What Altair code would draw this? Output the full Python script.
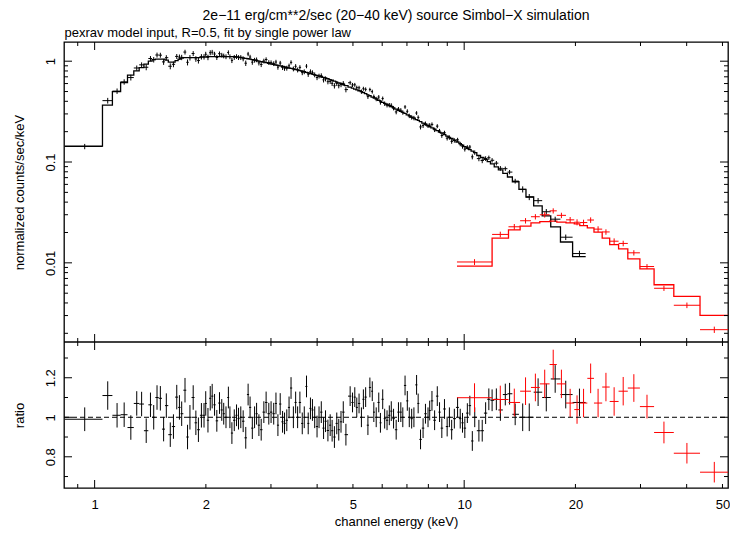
import math
import altair as alt
import pandas as pd

# ---------------- text ----------------
TITLE = "2e\u221211 erg/cm**2/sec (20\u221240 keV) source Simbol\u2212X simulation"
SUBTITLE = "pexrav model input, R=0.5, fit by single power law"
Y_TOP_TITLE = "normalized counts/sec/keV"
Y_BOT_TITLE = "ratio"
X_TITLE = "channel energy (keV)"

# ---------------- axes ----------------
X_DOMAIN = [0.8262, 51.75]
Y_TOP_DOMAIN = [0.00164, 1.55]
Y_BOT_DOMAIN = [0.642, 1.381]
x_labels = [1, 2, 5, 10, 20, 50]
x_major = [1, 10]
x_minor = [0.9, 2, 3, 4, 5, 6, 7, 8, 9, 20, 30, 40, 50]
ytop_labels = [0.01, 0.1, 1]
ytop_minor = [0.002, 0.003, 0.004, 0.005, 0.006, 0.007, 0.008, 0.009,
              0.02, 0.03, 0.04, 0.05, 0.06, 0.07, 0.08, 0.09,
              0.2, 0.3, 0.4, 0.5, 0.6, 0.7, 0.8, 0.9]
ybot_labels = [0.8, 1.0, 1.2]
ybot_minor = [0.7, 0.9, 1.1, 1.3]

# ---------------- black spectrum (bin centres, keV) ----------------
black_energy = [
    0.94, 1.085, 1.150, 1.202, 1.253, 1.300, 1.340, 1.379, 1.416, 1.445,
    1.475, 1.506, 1.537, 1.563, 1.602, 1.634, 1.668, 1.696, 1.720, 1.756,
    1.784, 1.811, 1.848, 1.879, 1.909, 1.945, 1.977, 1.998, 2.026, 2.055,
    2.080, 2.111, 2.141, 2.177, 2.208, 2.235, 2.267, 2.301, 2.323, 2.352,
    2.387, 2.421, 2.451, 2.486, 2.523, 2.564, 2.602, 2.634, 2.671, 2.709,
    2.743, 2.783, 2.823, 2.870, 2.911, 2.960, 3.002, 3.052, 3.095, 3.133,
    3.178, 3.225, 3.265, 3.311, 3.358, 3.400, 3.450, 3.499, 3.542, 3.593,
    3.646, 3.692, 3.744, 3.784, 3.837, 3.885, 3.940, 3.998, 4.048, 4.105,
    4.164, 4.215, 4.278, 4.339, 4.392, 4.455, 4.521, 4.577, 4.642, 4.708,
    4.786, 4.914, 4.987, 5.058, 5.121, 5.194, 5.271, 5.336, 5.412, 5.489,
    5.557, 5.640, 5.695, 5.780, 5.873, 5.934, 6.019, 6.093, 6.184, 6.272,
    6.349, 6.440, 6.546, 6.640, 6.738, 6.822, 6.918, 7.017, 7.103, 7.209,
    7.311, 7.434, 7.507, 7.619, 7.741, 7.856, 7.983, 8.066, 8.181, 8.318,
    8.457, 8.577, 8.699, 8.845, 8.993, 9.120, 9.250, 9.405, 9.597, 9.757,
    9.896, 10.04, 10.20, 10.36, 10.52, 10.68, 10.96, 11.19, 11.43, 11.66,
    11.90, 12.22, 12.53, 12.92, 13.27, 13.74, 14.40, 15.00, 15.85, 16.68,
    17.63, 18.83, 20.51,
]
black_first_edges = [0.83, 1.05]
black_last_edge = 21.32

black_model = [
    0.144, 0.366, 0.50, 0.615, 0.726, 0.80, 0.862, 0.934, 1.0, 1.035,
    1.047, 1.047, 1.047, 1.023, 0.977, 0.977, 1.012, 1.047, 1.071, 1.083,
    1.083, 1.083, 1.083, 1.083, 1.083, 1.095, 1.095, 1.095, 1.108, 1.108,
    1.108, 1.108, 1.108, 1.108, 1.108, 1.108, 1.108, 1.108, 1.108, 1.108,
    1.108, 1.10, 1.095, 1.088, 1.078, 1.066, 1.057, 1.047, 1.035, 1.023,
    1.014, 1.002, 0.991, 0.979, 0.966, 0.953, 0.942, 0.929, 0.917, 0.909,
    0.898, 0.886, 0.878, 0.866, 0.856, 0.848, 0.839, 0.827, 0.819, 0.808,
    0.795, 0.786, 0.773, 0.764, 0.754, 0.743, 0.733, 0.722, 0.712, 0.701,
    0.691, 0.682, 0.671, 0.657, 0.647, 0.634, 0.621, 0.610, 0.599, 0.587,
    0.573, 0.552, 0.541, 0.529, 0.520, 0.509, 0.499, 0.489, 0.477, 0.464,
    0.454, 0.441, 0.434, 0.422, 0.410, 0.402, 0.391, 0.382, 0.372, 0.363,
    0.354, 0.345, 0.335, 0.326, 0.318, 0.310, 0.303, 0.294, 0.287, 0.279,
    0.273, 0.263, 0.259, 0.251, 0.243, 0.236, 0.229, 0.224, 0.218, 0.212,
    0.205, 0.198, 0.194, 0.187, 0.181, 0.175, 0.171, 0.165, 0.158, 0.152,
    0.147, 0.142, 0.137, 0.133, 0.128, 0.124, 0.116, 0.111, 0.106, 0.101,
    0.0958, 0.0893, 0.0835, 0.0770, 0.0710, 0.0637, 0.0536, 0.0450, 0.0367, 0.0292,
    0.0227, 0.0161, 0.0115,
]

black_ratio = [
    0.99, 1.11, 1.01, 1.013, 0.948, 1.07, 1.067, 0.932, 1.063, 1.0,
    1.1, 1.096, 0.94, 1.059, 0.912, 0.953, 1.102, 1.05, 1.018, 1.137,
    0.9, 1.0, 1.1, 0.972, 0.937, 1.01, 1.01, 1.07, 0.985, 1.096,
    1.107, 1.063, 0.982, 1.072, 1.037, 1.018, 1.0, 1.1, 1.0, 0.92,
    0.985, 1.01, 0.993, 1.0, 0.98, 0.896, 1.115, 1.05, 0.945, 1.0,
    1.018, 0.96, 0.937, 1.026, 1.075, 1.018, 1.026, 1.018, 1.07, 0.96,
    1.067, 0.977, 0.969, 0.985, 1.05, 1.148, 1.0, 1.075, 1.0, 1.075,
    0.969, 1.0, 1.156, 0.969, 1.045, 1.037, 1.0, 0.953, 1.0, 1.026,
    0.945, 0.98, 0.933, 0.96, 0.932, 0.9, 0.969, 0.937, 0.977, 1.026,
    0.912, 1.107, 1.075, 1.102, 1.05, 1.07, 1.0, 1.091, 1.102, 0.96,
    1.151, 1.132, 1.026, 1.0, 1.075, 0.972, 1.091, 0.993, 0.985, 1.01,
    1.031, 0.993, 0.937, 1.026, 1.026, 1.0, 1.161, 1.083, 1.0, 0.993,
    1.0, 1.164, 1.07, 0.888, 0.945, 1.018, 1.0, 1.034, 1.083, 0.985,
    1.107, 1.026, 0.945, 1.042, 0.953, 1.0, 0.937, 0.993, 1.05, 0.993,
    0.972, 0.945, 1.021, 1.059, 0.88, 1.0, 0.932, 0.932, 1.021, 1.091,
    1.086, 1.091, 1.037, 1.115, 1.119, 1.015, 1.0, 1.0, 1.127, 1.1,
    1.194, 1.115, 1.075,
]

black_err = ([0.06, 0.072] + [0.062] * 29 + [0.055] * 60 + [0.05] * 55
             + [0.055] * 10 + [0.07] * 7)

# ---------------- red spectrum ----------------
red_edges = [9.56, 11.90, 13.18, 14.17, 15.16, 16.02, 17.03, 17.81, 18.86, 19.86,
             20.55, 21.54, 22.45, 23.63, 24.76, 26.17, 27.72, 29.89, 32.65, 36.92,
             43.47, 51.94]
red_model = [0.00928, 0.01756, 0.0212, 0.0231, 0.0249, 0.02564, 0.02588, 0.0253,
             0.0249, 0.02433, 0.02341, 0.02221, 0.02014, 0.01756, 0.01518, 0.01376,
             0.01095, 0.00872, 0.00606, 0.00464, 0.00301]
red_ratio = [1.099, 1.09, 1.075, 1.132, 1.151, 1.169, 1.267, 1.169, 1.072, 1.039,
             1.072, 1.197, 1.072, 1.153, 1.08, 1.132, 1.148, 1.054, 0.923, 0.818,
             0.722]
red_err = [0.073, 0.07, 0.07, 0.07, 0.07, 0.072, 0.075, 0.072, 0.072, 0.072,
           0.072, 0.075, 0.072, 0.072, 0.072, 0.072, 0.07, 0.06, 0.055, 0.052,
           0.052]

n = len(black_energy)
if not (len(black_model) == len(black_ratio) == len(black_err) == n):
    raise SystemExit(f"length mismatch {n} {len(black_model)} {len(black_ratio)} {len(black_err)}")

# ---------------- tables ----------------
b_hi = ([black_first_edges[1]]
        + [math.sqrt(black_energy[i] * black_energy[i + 1]) for i in range(1, n - 1)]
        + [black_last_edge])
b_lo = [black_first_edges[0]] + b_hi[:-1]


def spectrum_table(centers, lo, hi, model, ratio, err):
    df = pd.DataFrame({"c": centers, "lo": lo, "hi": hi, "m": model, "r": ratio, "re": err})
    df["d"] = df.m * df.r
    df["dlo"] = df.m * (df.r - df.re)
    df["dhi"] = df.m * (df.r + df.re)
    df["rlo"] = df.r - df.re
    df["rhi"] = df.r + df.re
    return df


black_df = spectrum_table(black_energy, b_lo, b_hi, black_model, black_ratio, black_err)
r_lo = red_edges[:-1]
r_hi = red_edges[1:]
r_c = [math.sqrt(a * b) for a, b in zip(r_lo, r_hi)]
red_df = spectrum_table(r_c, r_lo, r_hi, red_model, red_ratio, red_err)

black_step = pd.DataFrame({"e": b_lo + [b_hi[-1]], "m": black_model + [black_model[-1]]})
red_step = pd.DataFrame({"e": r_lo + [r_hi[-1]], "m": red_model + [red_model[-1]]})

# ---------------- scales ----------------
W, H = 664, 446
TOP_H = 300
FONT = "Liberation Sans"
RED = "#ff0000"
MAJ, MIN = 8, 4


def xs():
    return alt.Scale(type="log", domain=X_DOMAIN, nice=False)


def yts():
    return alt.Scale(type="log", domain=Y_TOP_DOMAIN, nice=False, range=[TOP_H, 0])


def ybs():
    return alt.Scale(type="linear", domain=Y_BOT_DOMAIN, nice=False, zero=False, range=[H, TOP_H])


common_axis = dict(grid=False, domain=False, ticks=False, tickSize=0,
                   labelFont=FONT, labelFontSize=13, labelColor="black",
                   labelFontWeight="normal", titleFont=FONT, titleFontSize=13,
                   titleFontWeight="normal", titleColor="black")

top_x_axis = alt.Axis(orient="top", labels=False,
                      title=SUBTITLE, titleAnchor="start", titleAlign="left",
                      titleX=0, titleY=-6, titleBaseline="alphabetic", **common_axis)
top_y_axis = alt.Axis(orient="left", values=ytop_labels, format="~g", labelAngle=270,
                      labelAlign="center", labelBaseline="bottom", labelPadding=7,
                      title=Y_TOP_TITLE, titleX=-45, titleY=TOP_H / 2,
                      titleBaseline="middle", titleAlign="center", titleAngle=270,
                      **common_axis)
bot_x_axis = alt.Axis(orient="bottom", values=x_labels, format="~g", labelPadding=10,
                      labelBaseline="top",
                      title=X_TITLE, titleY=33, titleBaseline="middle", **common_axis)
bot_y_axis = alt.Axis(orient="left", values=ybot_labels, format="~g", labelAngle=270,
                      labelAlign="center", labelBaseline="bottom", labelPadding=7,
                      title=Y_BOT_TITLE, titleX=-45, titleY=(H + TOP_H) / 2,
                      titleBaseline="middle", titleAlign="center", titleAngle=270,
                      **common_axis)


def x_tick_layer(vals, length, ysc, ydatum, sign):
    df = pd.DataFrame({"v": vals})
    return alt.Chart(df).mark_rule(color="black", strokeWidth=1, y2Offset=sign * length).encode(
        x=alt.X("v:Q", scale=xs(), axis=None),
        y=alt.YDatum(ydatum, scale=ysc(), axis=None),
        y2=alt.Y2Datum(ydatum),
    )


def y_tick_layer(vals, length, ysc, xdatum, sign):
    df = pd.DataFrame({"v": vals})
    return alt.Chart(df).mark_rule(color="black", strokeWidth=1, x2Offset=sign * length).encode(
        y=alt.Y("v:Q", scale=ysc(), axis=None),
        x=alt.XDatum(xdatum, scale=xs(), axis=None),
        x2=alt.X2Datum(xdatum),
    )


def ticks_for_panel(ysc, ydom, ymaj, ymin):
    return [
        x_tick_layer(x_major, MAJ, ysc, ydom[1], 1),
        x_tick_layer(x_minor, MIN, ysc, ydom[1], 1),
        x_tick_layer(x_major, MAJ, ysc, ydom[0], -1),
        x_tick_layer(x_minor, MIN, ysc, ydom[0], -1),
        y_tick_layer(ymaj, MAJ, ysc, X_DOMAIN[0], 1),
        y_tick_layer(ymin, MIN, ysc, X_DOMAIN[0], 1),
        y_tick_layer(ymaj, MAJ, ysc, X_DOMAIN[1], -1),
        y_tick_layer(ymin, MIN, ysc, X_DOMAIN[1], -1),
    ]


def crosses(df, color, ysc, yfield, ylo, yhi, axes=(None, None)):
    xa, ya = axes
    h = alt.Chart(df).mark_rule(color=color, strokeWidth=1, clip=True).encode(
        x=alt.X("lo:Q", scale=xs(), axis=xa),
        x2="hi:Q",
        y=alt.Y(f"{yfield}:Q", scale=ysc(), axis=ya),
    )
    v = alt.Chart(df).mark_rule(color=color, strokeWidth=1, clip=True).encode(
        x=alt.X("c:Q", scale=xs(), axis=None),
        y=alt.Y(f"{ylo}:Q", scale=ysc(), axis=None),
        y2=f"{yhi}:Q",
    )
    return [h, v]


# ---------------- top panel ----------------
black_model_line = alt.Chart(black_step).mark_line(
    interpolate="step-after", color="black", strokeWidth=1.3, clip=True).encode(
    x=alt.X("e:Q", scale=xs(), axis=top_x_axis),
    y=alt.Y("m:Q", scale=yts(), axis=top_y_axis),
)
red_model_line = alt.Chart(red_step).mark_line(
    interpolate="step-after", color=RED, strokeWidth=1.3, clip=True).encode(
    x=alt.X("e:Q", scale=xs(), axis=None),
    y=alt.Y("m:Q", scale=yts(), axis=None),
)

# ---------------- bottom panel ----------------
unity = alt.Chart().mark_rule(color="black", strokeWidth=1, strokeDash=[5, 3]).encode(
    x=alt.XDatum(X_DOMAIN[0], scale=xs(), axis=None),
    x2=alt.X2Datum(X_DOMAIN[1]),
    y=alt.YDatum(1.0, scale=ybs(), axis=None),
)
divider = alt.Chart().mark_rule(color="black", strokeWidth=1.3).encode(
    x=alt.XDatum(X_DOMAIN[0], scale=xs(), axis=None),
    x2=alt.X2Datum(X_DOMAIN[1]),
    y=alt.YDatum(Y_BOT_DOMAIN[1], scale=ybs(), axis=None),
)

layers = [
    black_model_line,
    red_model_line,
    *crosses(black_df, "black", yts, "d", "dlo", "dhi"),
    *crosses(red_df, RED, yts, "d", "dlo", "dhi"),
    *crosses(black_df, "black", ybs, "r", "rlo", "rhi", axes=(bot_x_axis, bot_y_axis)),
    *crosses(red_df, RED, ybs, "r", "rlo", "rhi"),
    unity,
    divider,
    *ticks_for_panel(yts, Y_TOP_DOMAIN, ytop_labels, ytop_minor),
    *ticks_for_panel(ybs, Y_BOT_DOMAIN, ybot_labels, ybot_minor),
]

chart = alt.layer(*layers).resolve_scale(x="independent", y="independent").properties(
    width=W,
    height=H,
    padding={"left": 56, "top": 34, "right": 2, "bottom": 44},
    autosize=alt.AutoSizeParams(type="none"),
    title=alt.TitleParams(TITLE, anchor="middle", frame="group", fontSize=14,
                          fontWeight="normal", font=FONT, color="black",
                          baseline="alphabetic", offset=-8),
).configure(
    font=FONT
).configure_view(
    stroke="black", strokeWidth=1.3
).configure_axis(
    labelFont=FONT, labelFontSize=13, labelColor="black",
    titleFont=FONT, titleFontSize=13, titleFontWeight="normal", titleColor="black",
    grid=False, domain=False, ticks=False,
)

chart.save("out.html", embed_options={"renderer": "svg", "actions": False})
